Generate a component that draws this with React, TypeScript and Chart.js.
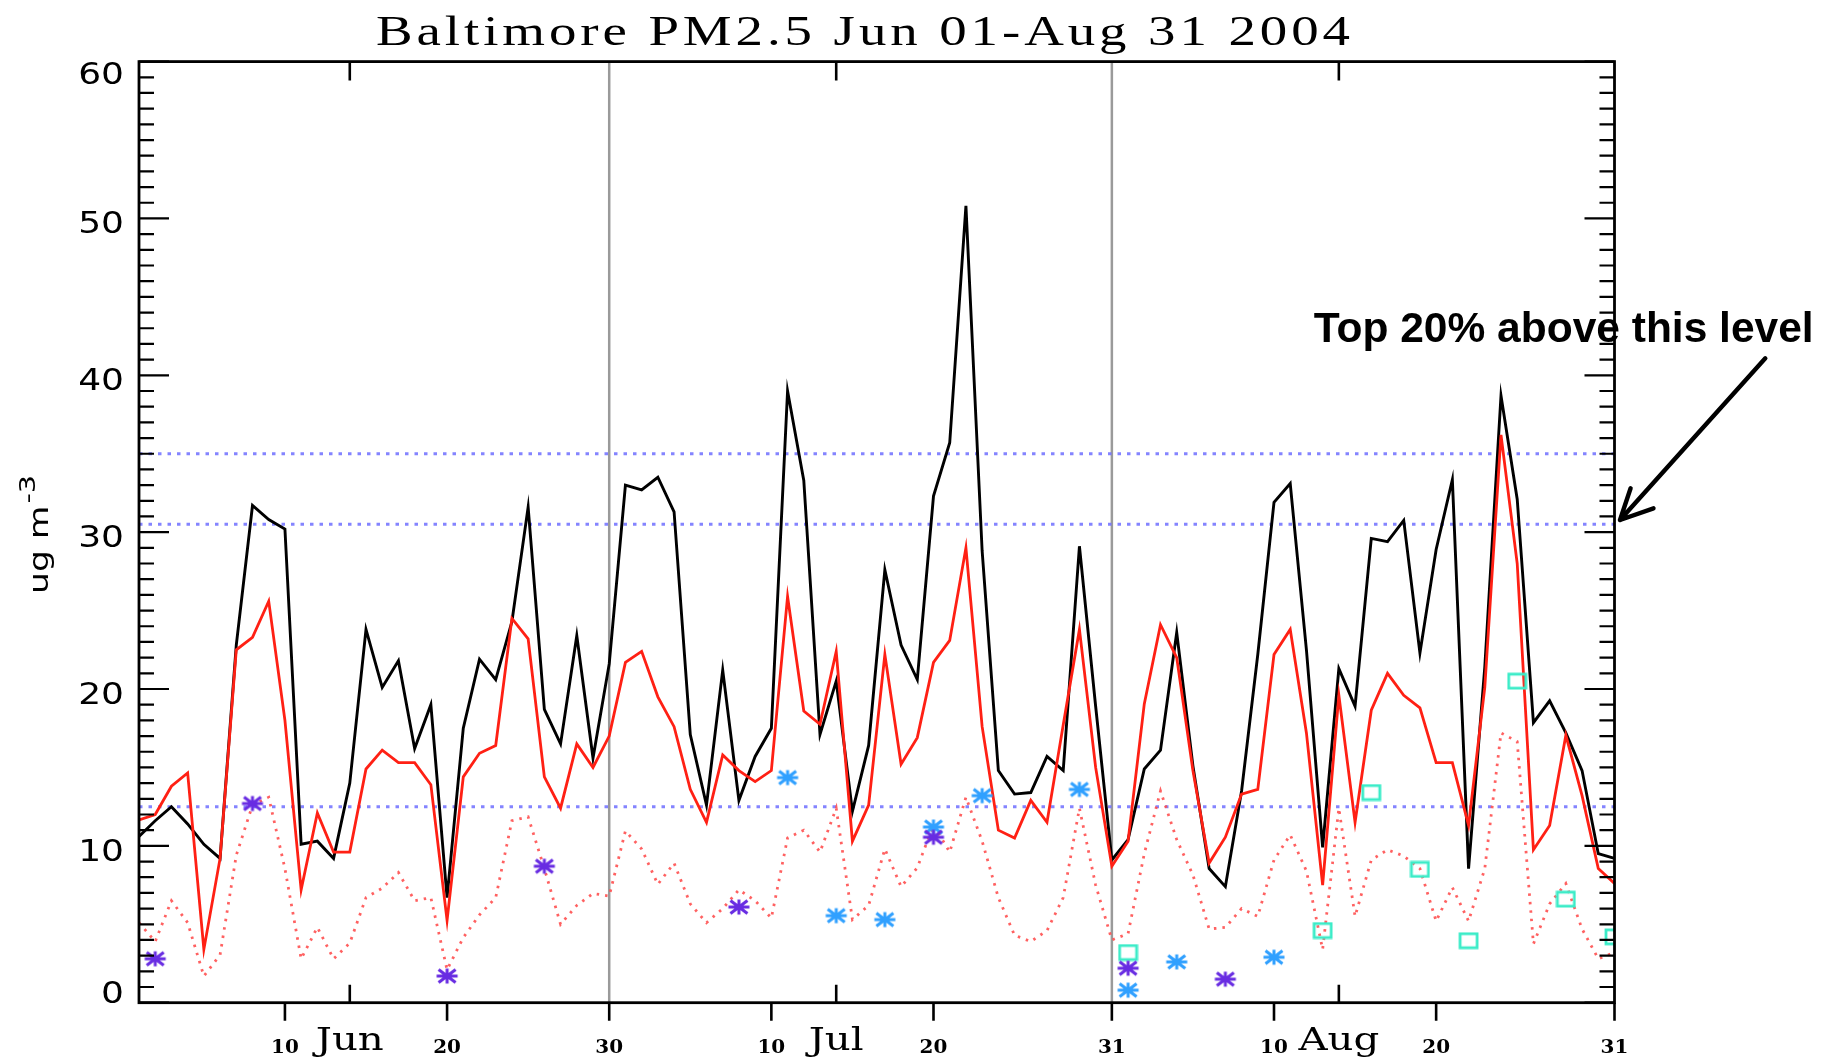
import React, { useEffect, useRef } from 'react';
import { Chart, registerables } from 'chart.js';

Chart.register(...registerables);

// Day index: Jun 01 = 1 ... Aug 31 = 92
const titleText = 'Baltimore PM2.5 Jun 01-Aug 31 2004';
const yAxisTitle = 'ug m';
const yAxisTitleSup = '-3';
const annotationText = 'Top 20% above this level';

const blackSeries = [
  10.6, 11.6, 12.5, 11.4, 10.1, 9.2, 22.8, 31.7, 30.8, 30.2,
  10.1, 10.3, 9.2, 14.0, 23.8, 20.1, 21.8, 16.2, 19.0, 6.7,
  17.5, 21.9, 20.6, 24.3, 31.6, 18.7, 16.5, 23.4, 15.6, 21.6,
  33.0, 32.7, 33.5, 31.3, 17.1, 12.6, 21.2, 12.9, 15.7, 17.5,
  39.0, 33.3, 17.1, 20.5, 12.2, 16.4, 27.6, 22.8, 20.6, 32.3,
  35.7, 50.8, 28.8, 14.8, 13.3, 13.4, 15.7, 14.8, 29.1, 18.9,
  9.1, 10.4, 14.9, 16.1, 23.6, 15.1, 8.55, 7.4, 13.5, 22.2,
  31.9, 33.1, 22.5, 9.9, 21.3, 18.9, 29.6, 29.4, 30.75, 22.3,
  28.9, 33.35, 8.55, 21.4, 38.7, 32.1, 17.85, 19.25, 17.2, 14.8,
  9.5, 9.2,
];

const redSeries = [
  11.65, 12.0, 13.8, 14.65, 3.4, 9.2, 22.5, 23.3, 25.6, 18.0,
  7.2, 12.1, 9.6, 9.6, 14.9, 16.1, 15.3, 15.3, 13.9, 5.25,
  14.4, 15.9, 16.4, 24.5, 23.2, 14.4, 12.4, 16.5, 15.0, 17.0,
  21.7, 22.4, 19.5, 17.6, 13.6, 11.5, 15.8, 14.8, 14.1, 14.8,
  25.9, 18.6, 17.75, 22.4, 10.3, 12.6, 22.2, 15.2, 16.9, 21.7,
  23.1, 29.0, 17.6, 11.0, 10.5, 12.9, 11.5, 17.7, 23.8, 15.0,
  8.7, 10.3, 19.05, 24.1, 22.0, 14.8, 8.9, 10.55, 13.3, 13.6,
  22.2, 23.8, 17.2, 7.5, 19.6, 11.5, 18.65, 21.0, 19.6, 18.8,
  15.3, 15.3, 11.3, 20.1, 36.2, 28.0, 9.75, 11.3, 17.05, 13.2,
  8.55, 7.6,
];

const redDottedSeries = [
  5.1, 3.9, 6.5, 5.1, 1.7, 3.05, 9.4, 12.6, 13.1, 8.55,
  2.8, 4.8, 2.8, 3.8, 6.7, 7.3, 8.3, 6.5, 6.7, 2.1,
  4.15, 5.6, 6.7, 11.6, 11.85, 8.55, 5.0, 6.2, 6.96, 6.8,
  10.95, 9.8, 7.55, 8.9, 6.3, 5.1, 6.0, 7.2, 6.5, 5.4,
  10.5, 11.0, 9.6, 12.4, 5.3, 6.2, 9.8, 7.4, 8.6, 11.35,
  9.6, 13.1, 10.3, 6.7, 4.3, 3.9, 4.6, 6.7, 12.4, 7.5,
  4.0, 4.4, 9.5, 13.5, 10.4, 8.15, 4.7, 4.8, 6.0, 5.5,
  9.1, 10.7, 8.4, 3.4, 12.4, 5.5, 9.1, 9.75, 9.35, 8.55,
  5.2, 7.35, 5.2, 8.55, 17.2, 16.65, 3.75, 6.3, 7.6, 4.7,
  2.8, 3.2,
];

const purpleDays = [2, 8, 20, 26, 38, 50, 62, 68];
const purpleValues = [2.8, 12.7, 1.7, 8.7, 6.1, 10.55, 2.2, 1.5];
const blueDays = [41, 44, 47, 50, 53, 59, 62, 65, 71];
const blueValues = [14.35, 5.55, 5.3, 11.2, 13.2, 13.6, 0.8, 2.6, 2.9];
const cyanDays = [62, 74, 77, 80, 83, 86, 89, 92];
const cyanValues = [3.2, 4.6, 13.4, 8.5, 3.95, 20.5, 6.6, 4.2];

const thresholdLevels = [12.5, 30.5, 35.0];
const monthEndDays = [30, 61];

const dayTickDays = [10, 20, 30, 40, 50, 61, 71, 81, 92];
const dayTickLabels = ['10', '20', '30', '10', '20', '31', '10', '20', '31'];
const monthTickDays = [14, 44, 75];
const monthTickLabels = ['Jun', 'Jul', 'Aug'];
const yTickValues = [0, 10, 20, 30, 40, 50, 60];
const yTickLabels = ['0', '10', '20', '30', '40', '50', '60'];

function makeAsterisk(color: string): HTMLCanvasElement {
  const c = document.createElement('canvas');
  c.width = 24;
  c.height = 18;
  const g = c.getContext('2d')!;
  g.strokeStyle = color;
  g.lineWidth = 3;
  g.beginPath();
  g.moveTo(1.5, 9); g.lineTo(22.5, 9);
  g.moveTo(12, 1.5); g.lineTo(12, 16.5);
  g.moveTo(3.5, 2.5); g.lineTo(20.5, 15.5);
  g.moveTo(3.5, 15.5); g.lineTo(20.5, 2.5);
  g.stroke();
  return c;
}

function makeSquare(color: string): HTMLCanvasElement {
  const c = document.createElement('canvas');
  c.width = 21;
  c.height = 18;
  const g = c.getContext('2d')!;
  g.strokeStyle = color;
  g.lineWidth = 2.8;
  g.strokeRect(2, 2, 17, 14);
  return c;
}

function drawText(
  ctx: CanvasRenderingContext2D,
  text: string,
  x: number,
  y: number,
  font: string,
  align: CanvasTextAlign,
  sx = 1,
) {
  ctx.save();
  ctx.font = font;
  ctx.fillStyle = '#000';
  ctx.textAlign = align;
  ctx.textBaseline = 'alphabetic';
  ctx.translate(x, y);
  ctx.scale(sx, 1);
  ctx.fillText(text, 0, 0);
  ctx.restore();
}

const decorPlugin = {
  id: 'decor',
  afterDatasetsDraw(chart: any) {
    const { ctx, chartArea: a } = chart;
    const xs = chart.scales.x;
    const ys = chart.scales.y;
    ctx.save();
    ctx.strokeStyle = '#000';

    // y ticks (inward, both sides)
    ctx.lineWidth = 2.2;
    ctx.beginPath();
    for (let v = 0; v <= 60; v += 1) {
      const py = ys.getPixelForValue(v);
      const len = v % 10 === 0 ? 30 : 15;
      ctx.moveTo(a.left, py);
      ctx.lineTo(a.left + len, py);
      ctx.moveTo(a.right, py);
      ctx.lineTo(a.right - len, py);
    }
    ctx.stroke();

    // x ticks
    ctx.lineWidth = 2.6;
    ctx.beginPath();
    dayTickDays.forEach((d) => {
      const px = xs.getPixelForValue(d);
      ctx.moveTo(px, a.bottom);
      ctx.lineTo(px, a.bottom + 18);
    });
    monthTickDays.forEach((d) => {
      const px = xs.getPixelForValue(d);
      ctx.moveTo(px, a.bottom);
      ctx.lineTo(px, a.bottom - 18);
      ctx.moveTo(px, a.top);
      ctx.lineTo(px, a.top + 19);
    });
    ctx.stroke();

    // frame
    ctx.lineWidth = 2.8;
    ctx.strokeRect(a.left, a.top, a.right - a.left, a.bottom - a.top);

    // y tick labels
    yTickValues.forEach((v, i) => {
      const py = ys.getPixelForValue(v);
      const cy = Math.min(Math.max(py + 4, a.top + 11.5), a.bottom - 10.7);
      drawText(ctx, yTickLabels[i], a.left - 15, cy + 11, '30px "DejaVu Sans"', 'right', 1.2);
    });

    // x tick labels
    dayTickDays.forEach((d, i) => {
      const px = xs.getPixelForValue(d);
      drawText(ctx, dayTickLabels[i], px, a.bottom + 50.5, 'bold 19px "DejaVu Serif"', 'center', 1.05);
    });
    monthTickDays.forEach((d, i) => {
      const px = xs.getPixelForValue(d);
      drawText(ctx, monthTickLabels[i], px, a.bottom + 47.5, '31px "DejaVu Serif"', 'center', 1.3);
    });

    // y axis title (rotated)
    ctx.save();
    ctx.translate(48, 594);
    ctx.rotate(-Math.PI / 2);
    ctx.fillStyle = '#000';
    ctx.textBaseline = 'alphabetic';
    ctx.textAlign = 'left';
    ctx.font = '27px "DejaVu Sans"';
    const w1 = ctx.measureText(yAxisTitle).width * 1.28;
    ctx.save();
    ctx.scale(1.28, 1);
    ctx.fillText(yAxisTitle, 0, 0);
    ctx.restore();
    ctx.font = '22px "DejaVu Sans"';
    ctx.save();
    ctx.translate(w1 + 2, -13);
    ctx.scale(1.3, 1);
    ctx.fillText(yAxisTitleSup, 0, 0);
    ctx.restore();
    ctx.restore();

    // title
    ctx.save();
    ctx.font = '42px "Liberation Serif"';
    ctx.fillStyle = '#000';
    ctx.textBaseline = 'alphabetic';
    ctx.textAlign = 'left';
    (ctx as any).letterSpacing = '3px';
    const targetW = 974;
    const w0 = ctx.measureText(titleText).width - 3;
    const sx = targetW / w0;
    ctx.translate(863 - targetW / 2, 45);
    ctx.scale(sx, 1);
    ctx.fillText(titleText, 0, 0);
    ctx.restore();

    // annotation
    ctx.save();
    ctx.font = 'bold 42.5px "Liberation Sans"';
    ctx.fillStyle = '#000';
    ctx.textAlign = 'left';
    ctx.textBaseline = 'alphabetic';
    ctx.fillText(annotationText, 1313.7, 341.7);
    ctx.strokeStyle = '#000';
    ctx.lineWidth = 4.4;
    ctx.lineCap = 'round';
    ctx.beginPath();
    ctx.moveTo(1765.3, 358.3);
    ctx.lineTo(1620, 520);
    ctx.moveTo(1620, 520);
    ctx.lineTo(1630.6, 488.3);
    ctx.moveTo(1620, 520);
    ctx.lineTo(1653.5, 508.3);
    ctx.stroke();
    ctx.restore();

    ctx.restore();
  },
};

export default function App() {
  const canvasRef = useRef<HTMLCanvasElement | null>(null);

  useEffect(() => {
    document.body.style.margin = '0';
    const canvas = canvasRef.current;
    if (!canvas) return;

    const toPoints = (vals: number[]) => vals.map((v, i) => ({ x: i + 1, y: v }));
    const pair = (days: number[], vals: number[]) => days.map((d, i) => ({ x: d, y: vals[i] }));

    const purpleStar = makeAsterisk('rgb(104, 44, 226)');
    const blueStar = makeAsterisk('rgb(48, 160, 255)');
    const cyanSquare = makeSquare('rgb(60, 236, 200)');

    const datasets: any[] = [
      {
        label: 'purple',
        type: 'line',
        data: pair(purpleDays, purpleValues),
        showLine: false,
        pointStyle: purpleStar,
        pointRadius: 9,
        order: 0,
        clip: 0,
      },
      {
        label: 'blue',
        type: 'line',
        data: pair(blueDays, blueValues),
        showLine: false,
        pointStyle: blueStar,
        pointRadius: 9,
        order: 0,
        clip: 0,
      },
      {
        label: 'cyan',
        type: 'line',
        data: pair(cyanDays, cyanValues),
        showLine: false,
        pointStyle: cyanSquare,
        pointRadius: 9,
        order: 0,
        clip: 0,
      },
      {
        label: 'red',
        type: 'line',
        data: toPoints(redSeries),
        borderColor: 'rgb(255, 32, 20)',
        borderWidth: 2.8,
        pointRadius: 0,
        tension: 0,
        order: 1,
      },
      {
        label: 'black',
        type: 'line',
        data: toPoints(blackSeries),
        borderColor: '#000',
        borderWidth: 2.9,
        pointRadius: 0,
        tension: 0,
        order: 2,
      },
      {
        label: 'redDotted',
        type: 'line',
        data: toPoints(redDottedSeries),
        borderColor: 'rgba(255, 80, 80, 0.9)',
        borderWidth: 2.8,
        borderDash: [2.5, 6],
        pointRadius: 0,
        tension: 0,
        order: 3,
      },
      ...thresholdLevels.map((t) => ({
        label: 'level',
        type: 'line',
        data: [{ x: 1, y: t }, { x: 92, y: t }],
        borderColor: 'rgba(110, 110, 255, 0.85)',
        borderWidth: 3,
        borderDash: [3.5, 6],
        pointRadius: 0,
        order: 4,
      })),
      ...monthEndDays.map((d) => ({
        label: 'month',
        type: 'line',
        data: [{ x: d, y: 0 }, { x: d, y: 60 }],
        borderColor: '#9a9a9a',
        borderWidth: 2.5,
        pointRadius: 0,
        order: 5,
      })),
    ];

    const chart = new Chart(canvas, {
      type: 'line',
      data: { datasets },
      options: {
        animation: false,
        responsive: false,
        devicePixelRatio: 1,
        events: [],
        layout: { padding: { left: 139, right: 206.5, top: 61.6, bottom: 55.3 } },
        plugins: { legend: { display: false }, tooltip: { enabled: false }, title: { display: false } },
        scales: {
          x: { type: 'linear', min: 1, max: 92, display: false },
          y: { type: 'linear', min: 0, max: 60, display: false },
        },
      },
      plugins: [decorPlugin],
    });

    return () => chart.destroy();
  }, []);

  return (
    <div style={{ position: 'fixed', left: 0, top: 0, width: 1821, height: 1058, background: '#fff', overflow: 'hidden' }}>
      <canvas ref={canvasRef} width={1821} height={1058} style={{ display: 'block' }} />
    </div>
  );
}
